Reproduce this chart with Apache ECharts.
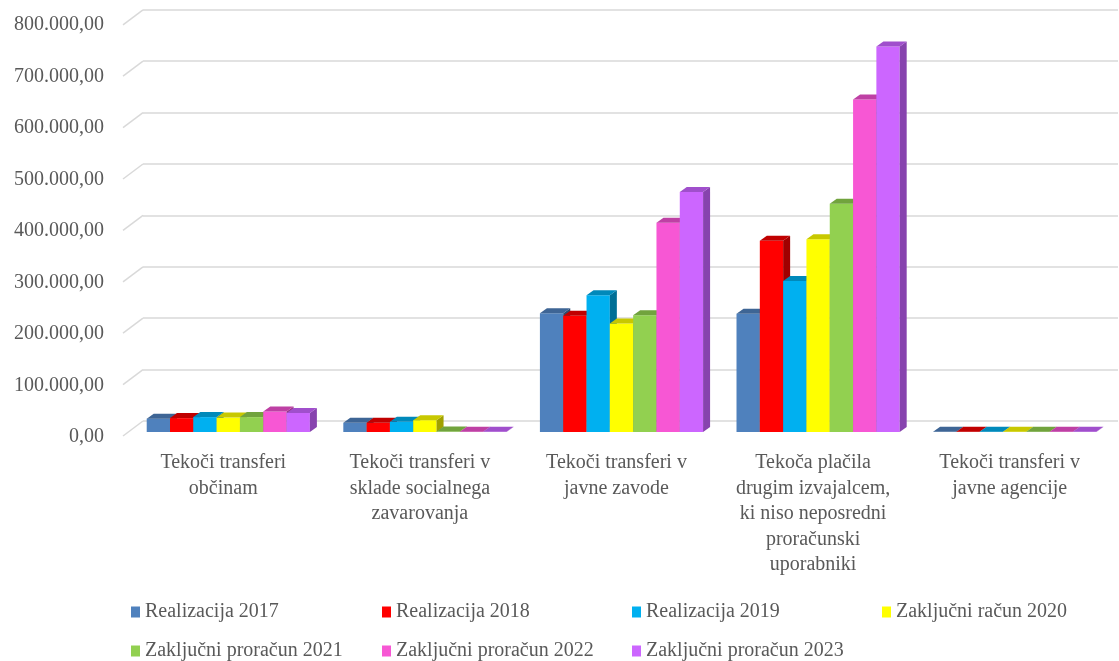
<!DOCTYPE html>
<html>
<head>
<meta charset="utf-8">
<script src="https://cdn.jsdelivr.net/npm/echarts@6/dist/echarts.min.js"></script>
<style>html,body{margin:0;padding:0;background:#fff;}#c{width:1119px;height:661px;}</style>
</head>
<body>
<div id="c"></div>
<script>
const categories = [
  "Tekoči transferi\nobčinam",
  "Tekoči transferi v\nsklade socialnega\nzavarovanja",
  "Tekoči transferi v\njavne zavode",
  "Tekoča plačila\ndrugim izvajalcem,\nki niso neposredni\nproračunski\nuporabniki",
  "Tekoči transferi v\njavne agencije"
];
const seriesNames = [
  "Realizacija 2017", "Realizacija 2018", "Realizacija 2019", "Zaključni račun 2020",
  "Zaključni proračun 2021", "Zaključni proračun 2022", "Zaključni proračun 2023"
];
const real2017 = [26000, 18000, 231000, 230000, 300];
const real2018 = [27000, 18000, 226000, 372000, 600];
const real2019 = [29000, 20000, 266000, 294000, 600];
const zr2020   = [28000, 23000, 211000, 375000, 600];
const zp2021   = [29000, 1000, 227000, 444000, 600];
const zp2022   = [40000, 500, 407000, 647000, 600];
const zp2023   = [37000, 500, 467000, 750000, 600];
const yTicks = [0, 100000, 200000, 300000, 400000, 500000, 600000, 700000, 800000];

const allValues = [real2017, real2018, real2019, zr2020, zp2021, zp2022, zp2023];
const frontColors = ["#4F81BD", "#FF0000", "#00B0F0", "#FFFF00", "#92D050", "#F757D4", "#CC66FF"];
const topColors   = ["#3E6595", "#C00000", "#0089BA", "#C8C800", "#71A33D", "#BE40A4", "#A04FCC"];
const sideColors  = ["#2F4C70", "#A00000", "#006F96", "#A0A000", "#5A8231", "#9A3385", "#8743AE"];

const DX = 7, DY = 5;
const fmt = v => {
  const s = Math.round(v).toString().replace(/\B(?=(\d{3})+(?!\d))/g, ".");
  return s + ",00";
};
const font = "Liberation Serif";

const barSeries = allValues.map((vals, si) => ({
  name: seriesNames[si],
  type: "custom",
  xAxisIndex: 0, yAxisIndex: 0,
  itemStyle: { color: frontColors[si] },
  data: vals.map((v, ci) => [ci, v]),
  renderItem: function (params, api) {
    const ci = api.value(0), v = api.value(1);
    const band = api.size([1, 0])[0];
    const bw = band * 0.83 / 7;
    const base = api.coord([ci, 0]);
    const top = api.coord([ci, v]);
    const x0 = base[0] - 3.5 * bw + si * bw;
    const yb = base[1], yt = top[1];
    return {
      type: "group",
      children: [
        { type: "rect", shape: { x: x0, y: yt, width: bw, height: Math.max(0, yb - yt) },
          style: { fill: frontColors[si] } },
        { type: "polygon", shape: { points: [[x0 + bw, yt], [x0 + bw + DX, yt - DY], [x0 + bw + DX, yb - DY], [x0 + bw, yb]] },
          style: { fill: sideColors[si] } },
        { type: "polygon", shape: { points: [[x0, yt], [x0 + DX, yt - DY], [x0 + bw + DX, yt - DY], [x0 + bw, yt]] },
          style: { fill: topColors[si] } }
      ]
    };
  }
}));

const slantSeries = {
  type: "custom",
  xAxisIndex: 1, yAxisIndex: 1,
  silent: true,
  z: 1,
  data: yTicks.map(t => [0, t]),
  renderItem: function (params, api) {
    const p = api.coord([0, api.value(1)]);
    const x = params.coordSys.x;
    return { type: "line", shape: { x1: x - 20, y1: p[1] + 15, x2: x, y2: p[1] },
      style: { stroke: "#D9D9D9", lineWidth: 1.5 } };
  }
};

const legendLefts = [131, 382, 632, 882, 131, 382, 632];
const legendTops = [600, 600, 600, 600, 639, 639, 639];
const legends = seriesNames.map((n, i) => ({
  left: legendLefts[i], top: legendTops[i], data: [n],
  itemWidth: 9, itemHeight: 11, icon: "rect", padding: 0,
  textStyle: { fontFamily: font, fontSize: 20, color: "#595959", lineHeight: 24 }
}));

const option = {
  animation: false,
  backgroundColor: "#fff",
  grid: [
    { left: 130, right: 6, top: 20.8, bottom: 229 },
    { left: 143, right: 1, top: 9.8, bottom: 240 },
    { left: 123, right: 1, top: 25, bottom: 224 }
  ],
  xAxis: [
    { type: "category", gridIndex: 0, data: categories,
      axisLine: { show: false }, axisTick: { show: false },
      axisLabel: { interval: 0, fontFamily: font, fontSize: 20, color: "#595959", lineHeight: 25.5, margin: 18, padding: [0, 10, 0, 0] } },
    { type: "value", gridIndex: 1, min: 0, max: 1, show: false },
    { type: "value", gridIndex: 2, min: 0, max: 1, show: false }
  ],
  yAxis: [
    { type: "value", gridIndex: 0, min: 0, max: 800000, interval: 100000, show: false },
    { type: "value", gridIndex: 1, min: 0, max: 800000, interval: 100000,
      axisLine: { show: false }, axisTick: { show: false }, axisLabel: { show: false },
      splitLine: { show: true, lineStyle: { color: "#D9D9D9", width: 1.5 } } },
    { type: "value", gridIndex: 2, min: 0, max: 800000, interval: 100000,
      axisLine: { show: false }, axisTick: { show: false }, splitLine: { show: false },
      axisLabel: { margin: 19, fontFamily: font, fontSize: 20, color: "#595959", formatter: fmt } }
  ],
  legend: legends,
  series: [slantSeries].concat(barSeries)
};

const chart = echarts.init(document.getElementById("c"), null, { renderer: "canvas" });
chart.setOption(option);
</script>
</body>
</html>
